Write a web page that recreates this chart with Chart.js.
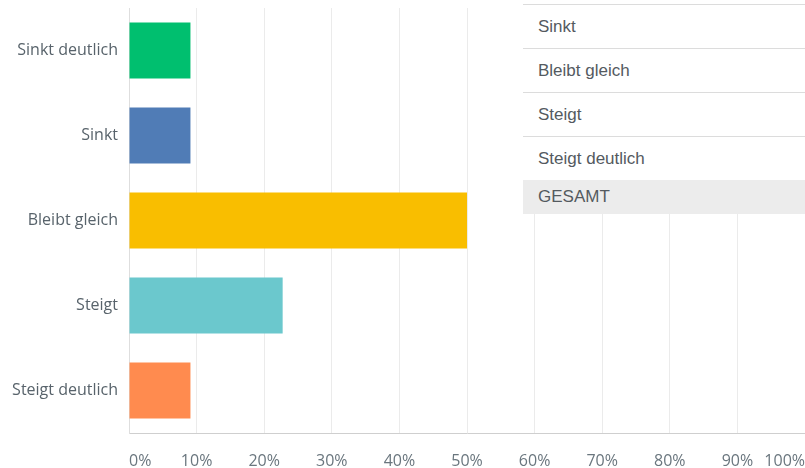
<!DOCTYPE html>
<html lang="de">
<head>
<meta charset="utf-8">
<script src="https://cdn.jsdelivr.net/npm/chart.js@4/dist/chart.umd.min.js"></script>
<style>
  html, body { margin: 0; padding: 0; background: #ffffff; }
  #wrap { position: relative; width: 805px; height: 468px; overflow: hidden; }
  #chart { position: absolute; left: 0; top: 0; }
  #summary {
    position: absolute; left: 523px; top: 0; width: 300px;
    background: #ffffff; font-family: "Liberation Sans", Arial, sans-serif;
    font-size: 17px; color: #545a5f;
  }
  #summary .row {
    height: 43px; line-height: 43px; padding-left: 15px;
    border-top: 1px solid #dcdcdc;
  }
  #summary .row.total {
    height: 34px; line-height: 34px; background: #ececec; border-top: none;
  }
</style>
</head>
<body>
<div id="wrap">
  <canvas id="chart" width="805" height="468"></canvas>
  <div id="summary"></div>
</div>
<script>
// Antwortkategorien und Anteile in Prozent
const categories = ["Sinkt deutlich", "Sinkt", "Bleibt gleich", "Steigt", "Steigt deutlich"];
const shares = [9.09, 9.09, 50.0, 22.73, 9.09];
const barColors = ["#00bf6f", "#507cb6", "#f9be00", "#6bc8cd", "#ff8b4f"];
const xTickValues = [0, 10, 20, 30, 40, 50, 60, 70, 80, 90, 100];
// Zeilen der Übersichtstabelle
const tableRows = ["Sinkt", "Bleibt gleich", "Steigt", "Steigt deutlich"];
const tableTotal = "GESAMT";

const summary = document.getElementById("summary");
const spacer = document.createElement("div");
spacer.style.height = "4px";
summary.appendChild(spacer);
tableRows.forEach(t => {
  const r = document.createElement("div");
  r.className = "row";
  r.textContent = t;
  summary.appendChild(r);
});
const tot = document.createElement("div");
tot.className = "row total";
tot.textContent = tableTotal;
summary.appendChild(tot);

const labelFont = { family: "'Open Sans', sans-serif", size: 16 };

new Chart(document.getElementById("chart"), {
  type: "bar",
  data: {
    labels: categories,
    datasets: [{
      data: shares,
      backgroundColor: barColors,
      borderWidth: 0,
      categoryPercentage: 1.0,
      barPercentage: 0.66
    }]
  },
  options: {
    indexAxis: "y",
    responsive: false,
    animation: false,
    layout: { padding: { top: 8, right: 0, left: 0, bottom: 0 } },
    plugins: { legend: { display: false }, tooltip: { enabled: false } },
    scales: {
      x: {
        min: 0, max: 100,
        afterBuildTicks: s => { s.ticks = xTickValues.map(v => ({ value: v })); },
        afterFit: s => { s.height = 35; s.paddingLeft = 0; s.paddingRight = 0; },
        grid: { color: "#ebebeb", drawTicks: false },
        border: { color: "#cfcfcf" },
        ticks: {
          align: "inner",
          padding: 19,
          color: "#6a767e",
          font: labelFont,
          callback: v => v + "%"
        }
      },
      y: {
        afterFit: s => { s.width = 129; s.paddingTop = 0; s.paddingBottom = 0; },
        grid: { display: false, drawTicks: false },
        border: { color: "#dedede" },
        ticks: { padding: 11, color: "#58636b", font: labelFont }
      }
    }
  }
});
</script>
</body>
</html>
